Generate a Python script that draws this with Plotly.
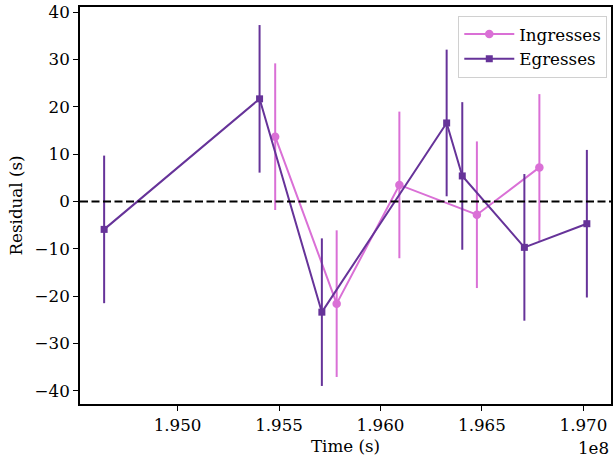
import plotly.graph_objects as go

# Transit timing residuals (times in seconds)
ingress_time = [1.95481e8, 1.95784e8, 1.96093e8, 1.96475e8, 1.96783e8]
ingress_resid = [13.7, -21.6, 3.5, -2.8, 7.2]
ingress_err = [15.5, 15.5, 15.5, 15.5, 15.5]

egress_time = [1.94638e8, 1.95404e8, 1.95711e8, 1.96326e8, 1.96403e8, 1.96709e8, 1.97017e8]
egress_resid = [-5.9, 21.7, -23.4, 16.6, 5.4, -9.7, -4.7]
egress_err = [15.6, 15.6, 15.6, 15.5, 15.6, 15.5, 15.6]

x_ticks = [1.950e8, 1.955e8, 1.960e8, 1.965e8, 1.970e8]
x_tick_text = ["1.950", "1.955", "1.960", "1.965", "1.970"]
y_ticks = [-40, -30, -20, -10, 0, 10, 20, 30, 40]

ORCHID = "#DA70D6"
PURPLE = "#663399"
FONT = "DejaVu Serif"
FS = 16.7


def padded(lo, hi, frac=0.05):
    span = hi - lo
    return [lo - frac * span, hi + frac * span]


all_t = ingress_time + egress_time
all_lo = [v - e for v, e in zip(ingress_resid, ingress_err)] + [v - e for v, e in zip(egress_resid, egress_err)]
all_hi = [v + e for v, e in zip(ingress_resid, ingress_err)] + [v + e for v, e in zip(egress_resid, egress_err)]

fig = go.Figure()
fig.add_trace(go.Scatter(
    x=ingress_time, y=ingress_resid, name="Ingresses", mode="lines+markers",
    line=dict(color=ORCHID, width=2),
    marker=dict(symbol="circle", size=8.5, color=ORCHID),
    error_y=dict(type="data", array=ingress_err, color=ORCHID, thickness=2, width=0),
))
fig.add_trace(go.Scatter(
    x=egress_time, y=egress_resid, name="Egresses", mode="lines+markers",
    line=dict(color=PURPLE, width=2),
    marker=dict(symbol="square", size=7, color=PURPLE),
    error_y=dict(type="data", array=egress_err, color=PURPLE, thickness=2, width=0),
))

# zero reference line across the full axis width
fig.add_shape(type="line", xref="paper", yref="y", x0=0, x1=1, y0=0, y1=0,
              line=dict(color="black", width=2, dash="8px,3.5px"), layer="above")

fig.add_annotation(text="1e8", xref="paper", yref="paper", x=1, y=0, yshift=-44,
                   xanchor="right", yanchor="middle", showarrow=False,
                   font=dict(family=FONT, size=FS, color="black"))

axis_common = dict(showgrid=False, zeroline=False, showline=True, linecolor="black",
                   linewidth=1.8, mirror=True, ticks="outside", ticklen=5, tickwidth=1.1,
                   tickcolor="black", tickfont=dict(family=FONT, size=FS, color="black"))

fig.update_xaxes(range=padded(min(all_t), max(all_t)), tickvals=x_ticks, ticktext=x_tick_text,
                 title=dict(text="Time (s)", font=dict(family=FONT, size=FS, color="black"), standoff=6),
                 **axis_common)
fig.update_yaxes(range=padded(min(all_lo), max(all_hi)), tickvals=y_ticks,
                 title=dict(text="Residual (s)", font=dict(family=FONT, size=FS, color="black"), standoff=8),
                 **axis_common)

fig.update_layout(
    width=614, height=458,
    margin=dict(l=80, r=1, t=7, b=54),
    plot_bgcolor="white", paper_bgcolor="white",
    font=dict(family=FONT, size=FS, color="black"),
    showlegend=True,
    legend=dict(x=0.993, y=0.978, xanchor="right", yanchor="top", itemwidth=50,
                bgcolor="rgba(255,255,255,0.8)", bordercolor="#d0d0d0", borderwidth=1,
                font=dict(family=FONT, size=FS, color="black")),
)

fig.write_html("out.html")
